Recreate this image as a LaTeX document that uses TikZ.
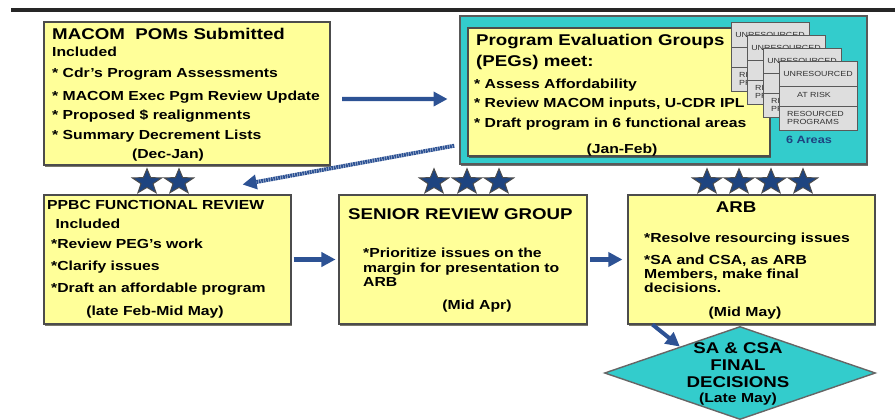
\documentclass[tikz,border=0pt]{standalone}
\usepackage{fontspec}
\setmainfont{Liberation Sans}[FakeStretch=1.2]
\usetikzlibrary{shapes.geometric,arrows.meta,fit,shadows}
\definecolor{padyellow}{RGB}{255,255,153}
\definecolor{padcyan}{RGB}{51,204,204}
\definecolor{arrowblue}{RGB}{45,82,148}
\definecolor{starblue}{RGB}{30,68,128}
\definecolor{cardgray}{RGB}{222,222,222}
\tikzset{
  ybox/.style={draw=black!70, fill=padyellow, line width=0.9pt, inner sep=0pt,
    drop shadow={shadow xshift=1.2pt, shadow yshift=-1.5pt, fill=black!70!olive, opacity=0.7}},
  cbox/.style={draw=black!65, fill=padcyan, line width=1.2pt, inner sep=0pt,
    drop shadow={shadow xshift=0.8pt, shadow yshift=-1.5pt, fill=black!80, opacity=0.7}},
  cardbox/.style={draw=black!65, fill=cardgray, line width=0.8pt, inner sep=0pt},
  cardtxt/.style={font=\fontsize{6.3}{7.6}\selectfont, text=black!80, inner sep=0pt},
  ttl/.style={font=\bfseries\fontsize{13.3}{15}\selectfont, inner sep=0pt, anchor=base west},
  body/.style={font=\bfseries\fontsize{11.2}{13}\selectfont, inner sep=0pt, anchor=base west},
  datetxt/.style={body, anchor=base},
  arr/.style={draw=arrowblue, line width=3.8pt, -{Triangle[width=12pt,length=12pt]}},
  starmark/.style={star, star points=5, star point ratio=2.45, minimum size=0.93cm,
    inner sep=0pt, fill=starblue, draw=gray!60!black, line width=0.8pt, yscale=0.86},
  diam/.style={diamond, draw=black!60, fill=padcyan, line width=1.2pt, inner sep=0pt,
    minimum width=8.13cm, minimum height=2.79cm}
}
\begin{document}
\begin{tikzpicture}[x=0.03cm, y=-0.03cm]
\useasboundingbox (0,0) rectangle (895,419);
\draw[line width=3pt, black!85] (11,10) -- (895,10);

% MACOM box
\node[ybox, fit={(44,22) (330,165)}] (macom) {};
\node[ttl] (macomhead) at (52,39) {MACOM\ \ POMs Submitted};
\foreach \y/\t [count=\i] in {56/Included, 77/{* Cdr's Program Assessments},
    100/{* MACOM Exec Pgm Review Update}, 119/{* Proposed \$ realignments},
    139/{* Summary Decrement Lists}}
  \node[body] (macom\i) at (52,\y) {\t};
\node[datetxt] (macomdate) at (168,158) {(Dec-Jan)};

% PEG box with the area cards
\node[cbox, fit={(460,16) (867,164)}] (peg) {};
\node[ybox, fit={(468,28) (770,156)}] (peginner) {};
\node[ttl] (peghead1) at (476,45) {Program Evaluation Groups};
\node[ttl] (peghead2) at (476,66) {(PEGs) meet:};
\foreach \y/\t [count=\i] in {88/{* Assess Affordability},
    107/{* Review MACOM inputs, U-CDR IPL}, 127/{* Draft program in 6 functional areas}}
  \node[body] (peg\i) at (474,\y) {\t};
\node[datetxt] (pegdate) at (622,153) {(Jan-Feb)};
\foreach \k in {0,1,2,3} {
  \pgfmathsetmacro{\cx}{731+16*\k}
  \pgfmathsetmacro{\cy}{22+13*\k}
  \node[cardbox, fit={(\cx,\cy) (\cx+78,\cy+69)}] (card\k) {};
  \draw[black!65, line width=0.8pt] (\cx,\cy+25) -- (\cx+78,\cy+25)
    (\cx,\cy+45) -- (\cx+78,\cy+45);
  \node[cardtxt] (cardu\k) at (\cx+39,\cy+12.5) {UNRESOURCED};
  \node[cardtxt] (cardr\k) at (\cx+35,\cy+34) {AT RISK};
  \node[cardtxt, align=left, anchor=west] (cardp\k) at (\cx+8,\cy+57) {RESOURCED\\PROGRAMS};
}
\node[font=\bfseries\fontsize{9}{10}\selectfont, text=starblue, inner sep=0pt, anchor=base]
  (areas) at (809,143) {6 Areas};

% lower row
\node[ybox, fit={(44,195) (291,324)}] (ppbc) {};
\node[body] (ppbchead) at (47,209) {PPBC FUNCTIONAL REVIEW};
\foreach \y/\t [count=\i] in {228/{\ Included}, 248/{*Review PEG's work},
    270/{*Clarify issues}, 292/{*Draft an affordable program}}
  \node[body] (ppbc\i) at (51,\y) {\t};
\node[datetxt] (ppbcdate) at (155,315) {(late Feb-Mid May)};

\node[ybox, fit={(339,195) (587,324)}] (senior) {};
\node[ttl] (seniorhead) at (348,219) {SENIOR REVIEW GROUP};
\foreach \y/\t [count=\i] in {257/{*Prioritize issues on the},
    272/{margin for presentation to}, 286/ARB}
  \node[body] (senior\i) at (363,\y) {\t};
\node[datetxt] (seniordate) at (477,309) {(Mid Apr)};

\node[ybox, fit={(628,195) (875,324)}] (arb) {};
\node[ttl, anchor=base] (arbhead) at (736,212) {ARB};
\foreach \y/\t [count=\i] in {242/{*Resolve resourcing issues},
    264/{*SA and CSA, as ARB}, 278/{Members, make final}, 292/decisions.}
  \node[body] (arb\i) at (644,\y) {\t};
\node[datetxt] (arbdate) at (745,316) {(Mid May)};

\node[diam] (final) at (740,373) {};
\foreach \y/\t/\s [count=\i] in {353/{SA \& CSA}/ttl, 370/FINAL/ttl,
    387/DECISIONS/ttl, 402/(Late May)/body}
  \node[\s, anchor=base] (final\i) at (738,\y) {\t};

% stars
\foreach \x in {147,179,434,467,499,707,739,771,803}
  \node[starmark] (star\x) at (\x,182) {};

% arrows
\draw[arr, shorten <=10pt, shorten >=10pt] ([yshift=-4.7pt]macom.east) -- ([yshift=-7.7pt]peg.west);
\draw[arr, line width=3.4pt, dash pattern=on 1.6pt off 0.5pt]
  ([xshift=-4.3pt, yshift=16.2pt]peg.south west) -- ([xshift=-41.8pt, yshift=8.5pt]ppbc.north east);
\draw[arr, shorten <=1.7pt, shorten >=2.5pt] (ppbc) -- (senior);
\draw[arr, shorten <=2.5pt, shorten >=4.3pt] (senior) -- (arb);
\draw[arr, line width=3.4pt] ([xshift=21.3pt]arb.south west) -- ([xshift=6.8pt, yshift=2.4pt]final.north west);
\end{tikzpicture}
\end{document}
